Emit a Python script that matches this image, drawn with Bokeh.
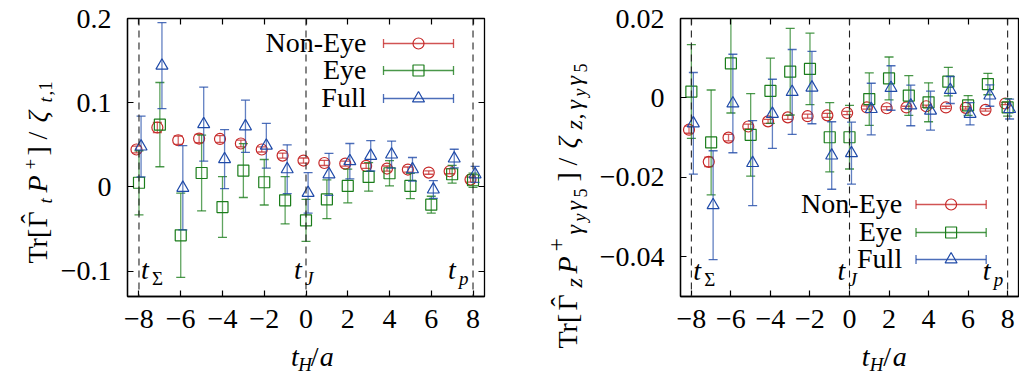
import numpy as np
from bokeh.plotting import figure
from bokeh.models import Range1d, FixedTicker, LinearAxis, Label, Span
from bokeh.layouts import row, column
from bokeh.embed import file_html
from bokeh.resources import INLINE

# ---------------- data ----------------
t_vals = [-8, -7, -6, -5, -4, -3, -2, -1, 0, 1, 2, 3, 4, 5, 6, 7, 8]
series_names = ["Non-Eye", "Eye", "Full"]

# left panel: Tr[Gamma_t P+]/zeta_{t,1}
left_noneye = [0.0445, 0.0706, 0.0555, 0.0575, 0.057, 0.0516, 0.0445, 0.0373, 0.0314,
               0.0285, 0.0278, 0.025, 0.0219, 0.0207, 0.0171, 0.0187, 0.0088]
left_noneye_err = [0.004, 0.006, 0.005, 0.005, 0.004, 0.004, 0.003, 0.003, 0.003,
                   0.003, 0.003, 0.003, 0.003, 0.003, 0.002, 0.003, 0.003]
left_eye = [0.005, 0.074, -0.0574, 0.0166, -0.0238, 0.0195, 0.0056, -0.0158, -0.0396,
            -0.0146, 0.0012, 0.012, 0.0163, 0.0012, -0.021, 0.0151, 0.008]
left_eye_err = [0.038, 0.050, 0.050, 0.045, 0.036, 0.032, 0.027, 0.028, 0.025,
                0.023, 0.020, 0.017, 0.015, 0.015, 0.010, 0.0105, 0.0085]
left_full = [0.048, 0.144, -0.001, 0.0746, 0.033, 0.072, 0.049, 0.021, -0.007,
             0.015, 0.0306, 0.037, 0.0385, 0.021, -0.003, 0.0338, 0.015]
left_full_err = [0.036, 0.051, 0.050, 0.044, 0.035, 0.031, 0.0265, 0.029, 0.024,
                 0.025, 0.021, 0.018, 0.016, 0.014, 0.0105, 0.011, 0.0095]

# right panel: Tr[Gamma_z P+_{gamma_y gamma_5}]/zeta
right_noneye = [-0.0080, -0.0161, -0.0100, -0.0072, -0.0059, -0.0049, -0.0046, -0.0044, -0.0038,
                -0.0024, -0.0026, -0.0024, -0.0021, -0.0024, -0.0025, -0.0030, -0.0014]
right_noneye_err = [0.0009, 0.0012, 0.0008, 0.0006, 0.0005, 0.0005, 0.0005, 0.0005, 0.0004,
                    0.0004, 0.0004, 0.0003, 0.0003, 0.0003, 0.0003, 0.0003, 0.0003]
right_eye = [0.0016, -0.0112, 0.0087, -0.0093, 0.0018, 0.0066, 0.0073, -0.0099, -0.0099,
             -0.0003, 0.0049, 0.0006, -0.0011, 0.0041, -0.0019, 0.0035, -0.0024]
right_eye_err = [0.0118, 0.0132, 0.0125, 0.0104, 0.0082, 0.0109, 0.009, 0.0087, 0.008,
                 0.0066, 0.0054, 0.005, 0.0049, 0.0036, 0.0025, 0.0027, 0.0022]
right_full = [-0.0064, -0.027, -0.0014, -0.0164, -0.004, 0.0015, 0.0026, -0.0145, -0.0139,
              -0.0028, 0.0025, -0.0019, -0.0032, 0.002, -0.004, 0.0006, -0.0028]
right_full_err = [0.0128, 0.0137, 0.0124, 0.0107, 0.0087, 0.0107, 0.0091, 0.0085, 0.0078,
                  0.0065, 0.0056, 0.0051, 0.0049, 0.0034, 0.0028, 0.0027, 0.0025]

x_ticks = [-8, -6, -4, -2, 0, 2, 4, 6, 8]
left_y_ticks = [-0.1, 0.0, 0.1, 0.2]
right_y_ticks = [-0.04, -0.02, 0.0, 0.02]

# ---------------- style ----------------
FONT = "Liberation Serif"
FS = 28
SUB = 19
S1 = 24
S2 = 18
COLORS = ["#c62828", "#1b7d1b", "#1f4aa8"]
MARKERS = ["circle", "square", "triangle"]
SHIFTS = [-0.12, 0.0, 0.1]
XR = (-8.55, 8.55)
A = np.pi / 2
MID = 0.34  # distance (in em) from alphabetic baseline to the middle of the text box
HAT = "\u02c6"


def fmt_tick(v, nd):
    s = f"{abs(int(v))}" if nd == 0 else (f"{abs(v):.{nd}f}" if v != 0 else "0")
    return ("\u2212" + s) if v < 0 else s


def lab(p, text, x, y, xu="data", yu="data", size=FS, italic=False, rot=False,
        align="left", xo=0.0, yo=0.0):
    """(x, y) is the alphabetic baseline origin of the text."""
    if rot:
        xo2, yo2 = xo - MID * size, yo
    else:
        xo2, yo2 = xo, yo + MID * size
    p.add_layout(Label(x=x, y=y, x_units=xu, y_units=yu, x_offset=xo2, y_offset=yo2,
                       text=text, text_font=FONT, text_font_size=f"{size}px",
                       text_font_style="italic" if italic else "normal",
                       angle=A if rot else 0.0, text_align=align, text_baseline="middle",
                       text_color="black"))


def make_fig(width, left_border, right_border, yr, yticks, ynd):
    p = figure(width=width, height=342, output_backend="svg", toolbar_location=None,
               x_range=Range1d(*XR), y_range=Range1d(*yr),
               min_border_left=left_border, min_border_right=right_border,
               min_border_top=18, min_border_bottom=46,
               background_fill_color="white", border_fill_color="white")
    p.outline_line_color = "black"
    p.outline_line_width = 1.3
    p.xgrid.visible = False
    p.ygrid.visible = False
    for ax, ticks, nd in ((p.xaxis[0], x_ticks, 0), (p.yaxis[0], yticks, ynd)):
        ax.ticker = FixedTicker(ticks=ticks, minor_ticks=[])
        ax.major_label_overrides = {v: fmt_tick(v, nd) for v in ticks}
        ax.major_label_text_font = FONT
        ax.major_label_text_font_size = f"{FS}px"
        ax.major_label_text_color = "black"
        ax.major_tick_in = 6
        ax.major_tick_out = 0
        ax.minor_tick_line_color = None
        ax.axis_line_color = "black"
        ax.axis_line_width = 1.3
        ax.major_tick_line_width = 1.2
    p.xaxis[0].major_label_standoff = 13
    p.yaxis[0].major_label_standoff = 16
    return p


def mirror_axes(p, sides):
    for side, ticks in sides:
        ax = LinearAxis(ticker=FixedTicker(ticks=ticks, minor_ticks=[]),
                        major_label_text_font_size="0px", major_label_standoff=0,
                        major_tick_in=6, major_tick_out=0, minor_tick_line_color=None,
                        axis_line_color="black", major_tick_line_width=1.2)
        ax.major_label_overrides = {v: "" for v in ticks}
        p.add_layout(ax, side)


def text_fig(width, height):
    f = figure(width=width, height=height, output_backend="svg", toolbar_location=None,
               x_range=Range1d(0, width), y_range=Range1d(0, height),
               x_axis_type=None, y_axis_type=None, min_border=0,
               background_fill_color="white", border_fill_color="white")
    f.outline_line_color = None
    f.xgrid.visible = False
    f.ygrid.visible = False
    return f


def draw_series(p, vals, errs, k, cap):
    xs = [t + SHIFTS[k] for t in t_vals]
    lo = [v - e for v, e in zip(vals, errs)]
    hi = [v + e for v, e in zip(vals, errs)]
    c = COLORS[k]
    p.segment(x0=xs, y0=lo, x1=xs, y1=hi, line_color=c, line_width=1.3, line_alpha=0.7)
    p.scatter(x=xs + xs, y=lo + hi, marker="dash", size=cap, line_color=c,
              line_width=1.3, line_alpha=0.8)
    p.scatter(x=xs, y=vals, marker=MARKERS[k], size=11 if k < 2 else 12,
              fill_color=None, line_color=c, line_width=1.2)


def markers_vlines(p):
    for loc in (-8, 0, 8):
        p.add_layout(Span(location=loc, dimension="height", line_color="#222222",
                          line_width=1.1, line_dash="7 5"))


def t_labels(p, y_base):
    # t_Sigma, t_J, t_p  (screen y measured up from the frame bottom)
    lab(p, "t", -8, y_base, yu="screen", italic=True, xo=2)
    lab(p, "\u03a3", -8, y_base - 5, yu="screen", size=SUB, xo=13)
    lab(p, "t", 0, y_base, yu="screen", italic=True, xo=-12)
    lab(p, "J", 0, y_base - 5, yu="screen", size=SUB, italic=True, xo=-1)
    lab(p, "t", 8, y_base, yu="screen", italic=True, xo=-25)
    lab(p, "p", 8, y_base - 5, yu="screen", size=SUB, italic=True, xo=-14)


def legend(p, px2x, py2y, text_right, line_l, line_r, rows):
    for k, (name, ry) in enumerate(zip(series_names, rows)):
        yy = py2y(ry)
        lab(p, name, px2x(text_right), py2y(ry + 9), align="right")
        x0, x1, xm = px2x(line_l), px2x(line_r), px2x((line_l + line_r) / 2)
        c = COLORS[k]
        p.segment(x0=[x0], y0=[yy], x1=[x1], y1=[yy], line_color=c, line_width=1.3, line_alpha=0.8)
        p.scatter(x=[x0, x1], y=[yy, yy], marker="dash", angle=np.pi / 2, size=9,
                  line_color=c, line_width=1.3, line_alpha=0.8)
        p.scatter(x=[xm], y=[yy], marker=MARKERS[k], size=11 if k < 2 else 12,
                  fill_color=None, line_color=c, line_width=1.2)


def x_label(f, cx):
    # "t_H/a" with baseline at page y 366; cx = page x of the t=0 tick minus figure left
    yb = 380 - 366
    lab(f, "t", cx - 28, yb, italic=True)
    lab(f, "H", cx - 18, yb - 4, size=SUB, italic=True)
    lab(f, "/", cx - 1, yb)
    lab(f, "a", cx + 11, yb, italic=True)


def yl(f, text, page_x, page_y, x0, size=FS, italic=False):
    # rotated piece; (page_x, page_y) = baseline start in page pixels
    lab(f, text, page_x - x0, 380 - page_y, size=size, italic=italic, rot=True)


# ---------------- left panel ----------------
L_YR = (-0.13, 0.2)
p1 = make_fig(484, 71, 56, L_YR, left_y_ticks, 1)   # page x 56..540, frame 127..484
mirror_axes(p1, [("above", x_ticks), ("right", left_y_ticks)])
markers_vlines(p1)
for k, (v, e) in enumerate([(left_noneye, left_noneye_err), (left_eye, left_eye_err),
                            (left_full, left_full_err)]):
    draw_series(p1, v, e, k, 9)

L_px2x = lambda px: XR[0] + (px - 127) / 357 * (XR[1] - XR[0])
L_py2y = lambda py: L_YR[1] - (py - 18) / 278 * (L_YR[1] - L_YR[0])
legend(p1, L_px2x, L_py2y, 366, 383, 453, [43, 70, 98])
t_labels(p1, 17)

# y label of left panel (page x 0..56)
yl1 = text_fig(56, 380)
yl(yl1, "Tr[", 47, 263, 0)
yl(yl1, "\u0393", 47, 227, 0)
yl(yl1, HAT, 40, 223, 0)
yl(yl1, "t", 51, 203, 0, size=SUB, italic=True)
yl(yl1, "P", 47, 192, 0, italic=True)
yl(yl1, "+", 36, 169, 0, size=SUB)
yl(yl1, "]", 47, 155, 0)
yl(yl1, "/", 47, 139, 0)
yl(yl1, "\u03b6", 47, 122, 0, italic=True)
yl(yl1, "t", 51, 102, 0, size=SUB, italic=True)
yl(yl1, ",1", 51, 95, 0, size=SUB)

xl1 = text_fig(484, 38)
x_label(xl1, 305.5 - 56)

# ---------------- right panel ----------------
R_YR = (-0.05, 0.02)
p2 = make_fig(427, 88, 1, R_YR, right_y_ticks, 2)   # page x 592..1019, frame 680..1018
mirror_axes(p2, [("above", x_ticks)])
markers_vlines(p2)
for k, (v, e) in enumerate([(right_noneye, right_noneye_err), (right_eye, right_eye_err),
                            (right_full, right_full_err)]):
    draw_series(p2, v, e, k, 9)

R_px2x = lambda px: (px - 851.7) / 20.0
R_py2y = lambda py: R_YR[1] - (py - 18) / 278 * (R_YR[1] - R_YR[0])
legend(p2, R_px2x, R_py2y, 905, 919, 990, [204, 232, 259])
t_labels(p2, 16)

yl2 = text_fig(52, 380)   # page x 540..592
X2 = 540
yl(yl2, "Tr[", 577, 348, X2)
yl(yl2, "\u0393", 577, 310, X2)
yl(yl2, HAT, 570, 306, X2)
yl(yl2, "z", 582, 287, X2, size=S1, italic=True)
yl(yl2, "P", 577, 273, X2, italic=True)
yl(yl2, "+", 564, 251, X2, size=S1)
yl(yl2, "\u03b3", 582, 234, X2, size=S1, italic=True)
yl(yl2, "y", 586, 221, X2, size=S2, italic=True)
yl(yl2, "\u03b3", 582, 210, X2, size=S1, italic=True)
yl(yl2, "5", 586, 197, X2, size=S2)
yl(yl2, "]", 577, 181, X2)
yl(yl2, "/", 577, 165, X2)
yl(yl2, "\u03b6", 577, 148, X2, italic=True)
yl(yl2, "z", 582, 129, X2, size=S1, italic=True)
yl(yl2, ",", 582, 119, X2, size=S1)
yl(yl2, "\u03b3", 582, 109, X2, size=S1, italic=True)
yl(yl2, "y", 586, 96, X2, size=S2, italic=True)
yl(yl2, "\u03b3", 582, 85, X2, size=S1, italic=True)
yl(yl2, "5", 586, 72, X2, size=S2)

xl2 = text_fig(427, 38)
x_label(xl2, 849 - 592)

layout = row(yl1, column(p1, xl1, spacing=0), yl2, column(p2, xl2, spacing=0), spacing=0)
open("out.html", "w").write(file_html(layout, INLINE))
